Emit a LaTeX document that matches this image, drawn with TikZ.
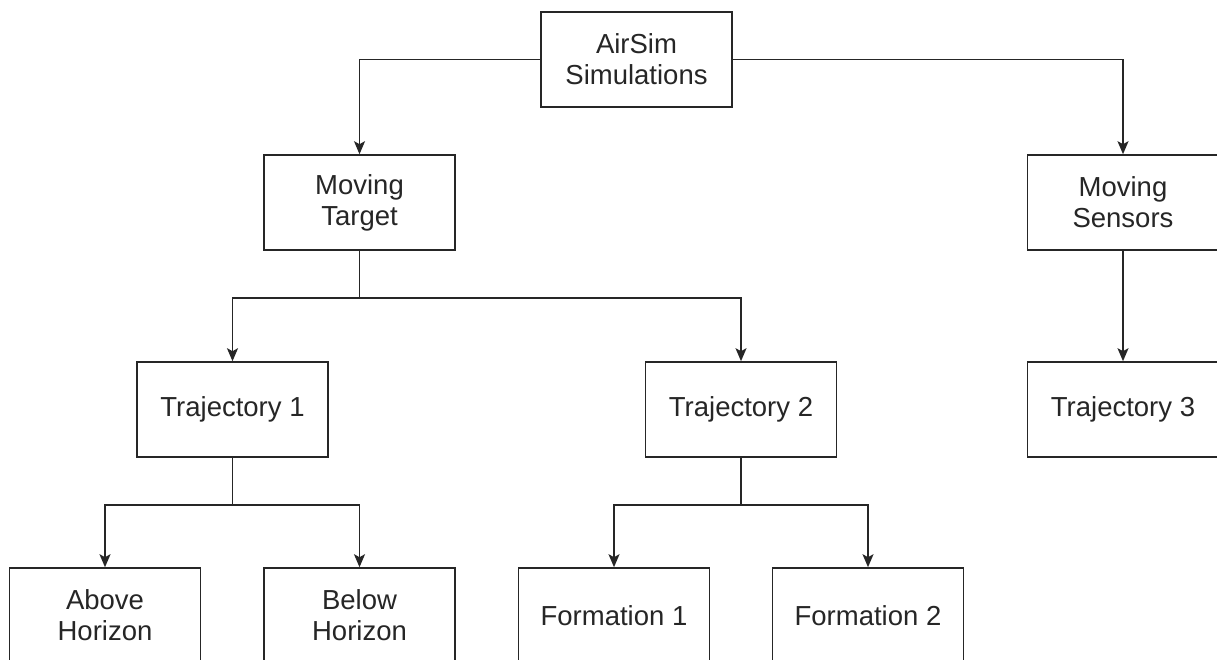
\documentclass[tikz,border=0pt]{standalone}
\usepackage{fontspec}
\setmainfont{Liberation Sans}
\usetikzlibrary{arrows.meta}
\begin{document}
\begin{tikzpicture}[x=1pt,y=-1pt,
  box/.style={draw=black!85, line width=1.6pt, fill=white, minimum width=191pt, minimum height=95pt,
    align=center, inner sep=0pt, font=\fontsize{27.5}{31}\selectfont, text=black!85},
  conn/.style={draw=black!85, line width=1.6pt},
  arr/.style={conn, -{Stealth[length=13pt, width=11pt, inset=3pt]}}]
\fill[white] (0,0) rectangle (1217,659);
\clip (0,0) rectangle (1217,659);
\node[box] (air) at (636.5,59.5) {AirSim\\Simulations};
\node[box] (mt) at (359.5,202.5) {Moving\\Target};
\node[box] (ms) at (1123,202.5) {Moving\\Sensors};
\node[box] (t1) at (232.5,409.5) {Trajectory 1};
\node[box] (t2) at (741,409.5) {Trajectory 2};
\node[box] (t3) at (1123,409.5) {Trajectory 3};
\node[box] (ah) at (105,615.5) {Above\\Horizon};
\node[box] (bh) at (359.5,615.5) {Below\\Horizon};
\node[box] (f1) at (614,615.5) {Formation 1};
\node[box] (f2) at (868,615.5) {Formation 2};
\coordinate (s1) at (359.5,298);
\coordinate (s2) at (232.5,505);
\coordinate (s3) at (741,505);
\draw[arr] (air.west) -| (mt.north);
\draw[arr] (air.east) -| (ms.north);
\draw[conn] (mt.south) -- (s1);
\draw[arr] (s1) -| (t1.north);
\draw[arr] (s1) -| (t2.north);
\draw[arr] (ms.south) -- (t3.north);
\draw[conn] (t1.south) -- (s2);
\draw[arr] (s2) -| (ah.north);
\draw[arr] (s2) -| (bh.north);
\draw[conn] (t2.south) -- (s3);
\draw[arr] (s3) -| (f1.north);
\draw[arr] (s3) -| (f2.north);
\end{tikzpicture}
\end{document}
